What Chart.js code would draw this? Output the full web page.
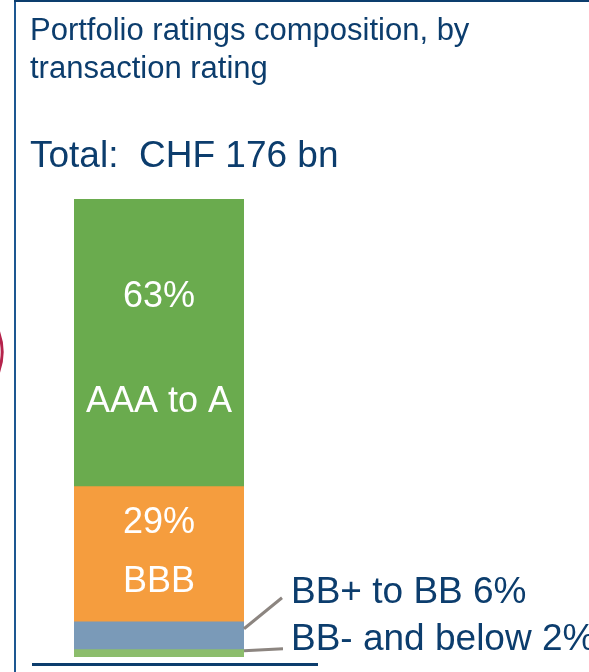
<!DOCTYPE html>
<html>
<head>
<meta charset="utf-8">
<script src="https://cdn.jsdelivr.net/npm/chart.js@4"></script>
<style>
  html, body { margin: 0; padding: 0; background: #fff; }
  canvas { display: block; }
</style>
</head>
<body>
<canvas id="grafico" width="589" height="672"></canvas>
<script>
// rating buckets, bottom to top of the stack
const ratings = ['BB- and below', 'BB+ to BB', 'BBB', 'AAA to A'];
const shares = [1.6, 6.1, 29.5, 62.8];
const shareLabels = ['2%', '6%', '29%', '63%'];
const coresBarra = ['#8cbd6c', '#7a9ab8', '#f59d3e', '#6aab4e'];

const titulo = ['Portfolio ratings composition, by', 'transaction rating'];
const total = 'Total:  CHF 176 bn';

const azul = '#0c3d6d';
const fonte = '"Liberation Sans", Arial, sans-serif';

// desenha moldura, titulos, rotulos e linhas guia
const decoracao = {
  id: 'decoracao',
  beforeDraw(chart) {
    const ctx = chart.ctx;
    ctx.save();
    // arco vermelho cortado na margem
    ctx.strokeStyle = '#b5234b';
    ctx.lineWidth = 3;
    ctx.beginPath();
    ctx.arc(-60, 352, 62, -0.4, 0.4);
    ctx.stroke();
    // moldura
    ctx.strokeStyle = '#1d5791';
    ctx.lineWidth = 2;
    ctx.beginPath();
    ctx.moveTo(15, 0);
    ctx.lineTo(15, 672);
    ctx.stroke();
    ctx.strokeStyle = azul;
    ctx.beginPath();
    ctx.moveTo(14, 1);
    ctx.lineTo(589, 1);
    ctx.stroke();
    // titulos
    ctx.fillStyle = azul;
    ctx.textBaseline = 'alphabetic';
    ctx.font = `31px ${fonte}`;
    titulo.forEach((linha, i) => ctx.fillText(linha, 30, 40 + i * 38));
    ctx.font = `37px ${fonte}`;
    ctx.fillText(total, 30, 167);
    ctx.restore();
  },
  afterDraw(chart) {
    const ctx = chart.ctx;
    const area = chart.chartArea;
    ctx.save();
    ctx.font = `36px ${fonte}`;
    ctx.textBaseline = 'middle';

    // rotulos dentro das barras grandes
    const internos = { 3: [-46, 59], 2: [-31, 28] };
    Object.entries(internos).forEach(([idx, desl]) => {
      const bar = chart.getDatasetMeta(+idx).data[0];
      const meio = (bar.y + bar.base) / 2;
      ctx.fillStyle = '#fff';
      ctx.textAlign = 'center';
      ctx.fillText(shareLabels[idx], bar.x, meio + desl[0]);
      ctx.fillText(ratings[idx], bar.x, meio + desl[1]);
    });

    // rotulos externos com linhas guia
    const bb = chart.getDatasetMeta(1).data[0];
    const bbm = chart.getDatasetMeta(0).data[0];
    const dir = area.right;
    ctx.strokeStyle = '#8c8580';
    ctx.lineWidth = 3;
    ctx.beginPath();
    ctx.moveTo(dir, bb.y + 7);
    ctx.lineTo(dir + 38, bb.y - 24);
    ctx.moveTo(dir, bbm.y + 1);
    ctx.lineTo(dir + 39, bbm.y - 1);
    ctx.stroke();

    ctx.fillStyle = azul;
    ctx.font = `37px ${fonte}`;
    ctx.textAlign = 'left';
    ctx.textBaseline = 'alphabetic';
    ctx.fillText(`${ratings[1]} ${shareLabels[1]}`, dir + 47, bb.y - 19);
    ctx.fillText(`${ratings[0]} ${shareLabels[0]}`, dir + 47, bbm.y);

    // linha de base
    ctx.strokeStyle = azul;
    ctx.lineWidth = 3;
    ctx.beginPath();
    ctx.moveTo(32, area.bottom + 7.5);
    ctx.lineTo(318, area.bottom + 7.5);
    ctx.stroke();
    ctx.restore();
  }
};

const dados = {
  labels: ['Portfolio'],
  datasets: ratings.map((r, i) => ({
    label: r,
    data: [shares[i]],
    backgroundColor: coresBarra[i],
    borderWidth: 0,
    barPercentage: 1,
    categoryPercentage: 1
  }))
};

new Chart(document.getElementById('grafico'), {
  type: 'bar',
  data: dados,
  options: {
    responsive: false,
    animation: false,
    layout: { padding: { left: 74, right: 345, top: 199, bottom: 15 } },
    scales: {
      x: { display: false, stacked: true },
      y: { display: false, stacked: true, min: 0, max: 100 }
    },
    plugins: {
      legend: { display: false },
      tooltip: { enabled: false }
    }
  },
  plugins: [decoracao]
});
</script>
</body>
</html>
